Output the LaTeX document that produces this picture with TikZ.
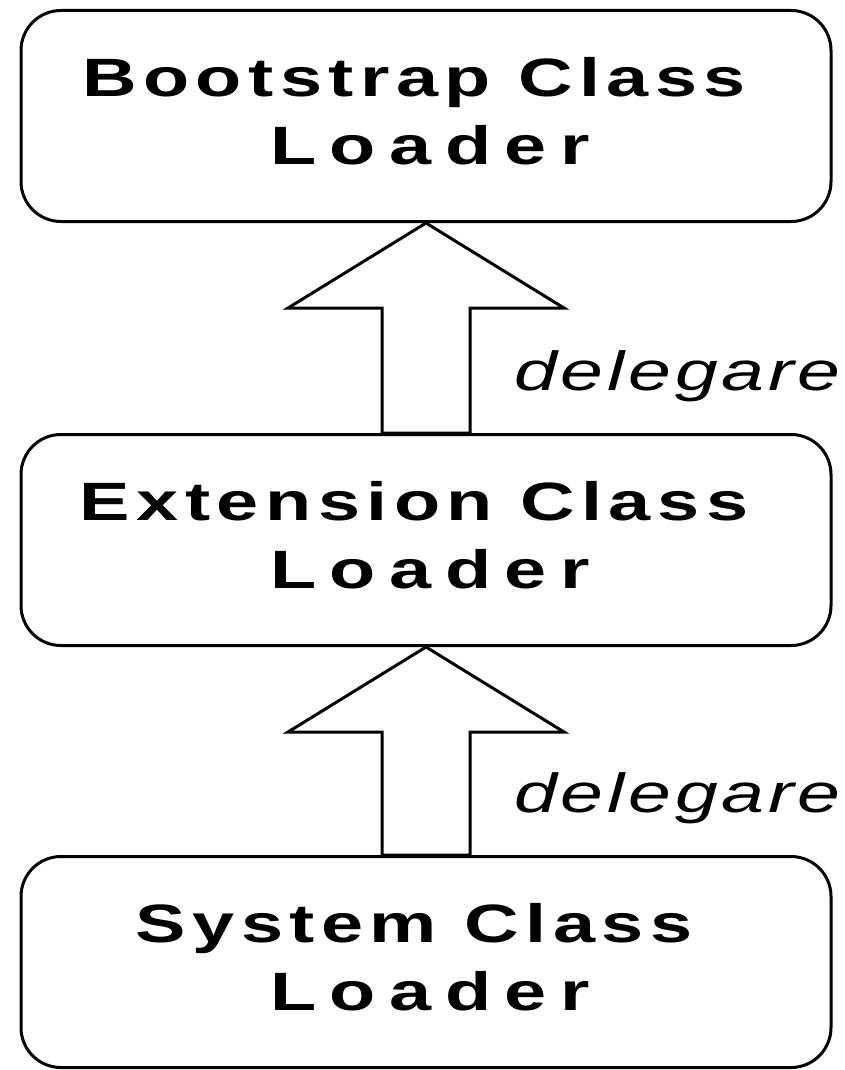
\documentclass[tikz,border=0pt]{standalone}
\usepackage{fontspec}
\setmainfont{Liberation Sans}
\usetikzlibrary{calc}
\newfontfamily\boxfont[LetterSpace=12,FakeStretch=1.4]{Liberation Sans Bold}
\newfontfamily\boxfontwide[LetterSpace=25,FakeStretch=1.4]{Liberation Sans Bold}
\newfontfamily\delfont[LetterSpace=7,FakeStretch=1.4]{Liberation Sans Italic}
\tikzset{
  loaderbox/.style={draw=black, line width=3pt, fill=white, rounded corners=40pt,
    minimum width=810pt, minimum height=211pt, inner sep=0pt, align=center,
    text depth=10pt, font=\fontsize{54}{68}\selectfont},
  blockarrow/.style={draw=black, line width=3pt, fill=white, line join=miter},
  dellabel/.style={anchor=base west, inner sep=0pt, font=\delfont\fontsize{55}{60}\selectfont}
}
\begin{document}
\begin{tikzpicture}[x=1pt,y=-1pt]
\useasboundingbox (0,0) rectangle (844,1070);
\node[loaderbox] (boot) at (426,116) {{\hspace*{-24pt}\boxfont Bootstrap Class}\\{\hspace*{8pt}\boxfontwide Loader}};
\node[loaderbox] (ext) at (426,540) {{\hspace*{-24pt}\boxfont Extension Class}\\{\hspace*{8pt}\boxfontwide Loader}};
\node[loaderbox] (sys) at (426,962) {{\hspace*{-24pt}\boxfont System Class}\\{\hspace*{8pt}\boxfontwide Loader}};
\draw[blockarrow] (boot.south) -- ($(boot.south)+(138,85)$) -- ($(boot.south)+(44,85)$)
  -- ($(ext.north)+(44,0)$) -- ($(ext.north)+(-44,0)$) -- ($(boot.south)+(-44,85)$)
  -- ($(boot.south)+(-138,85)$) -- cycle;
\draw[blockarrow] (ext.south) -- ($(ext.south)+(138,85)$) -- ($(ext.south)+(44,85)$)
  -- ($(sys.north)+(44,0)$) -- ($(sys.north)+(-44,0)$) -- ($(ext.south)+(-44,85)$)
  -- ($(ext.south)+(-138,85)$) -- cycle;
\node[dellabel] (del1) at (514,390) {delegare};
\node[dellabel] (del2) at (514,812) {delegare};
\end{tikzpicture}
\end{document}
